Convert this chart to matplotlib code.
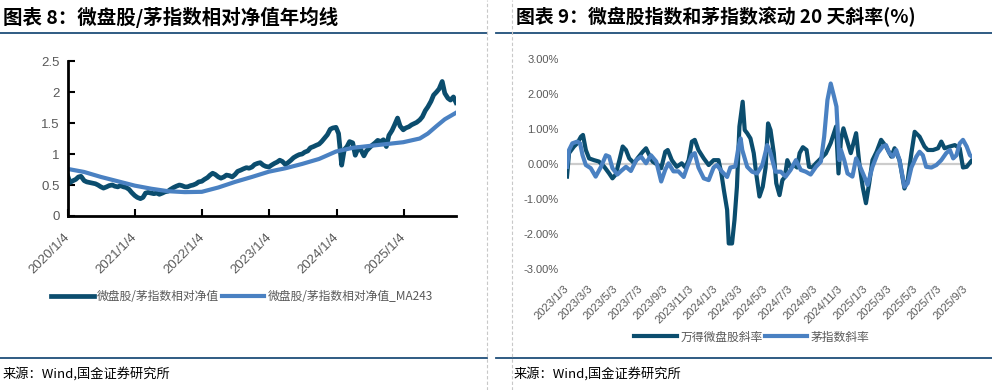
import matplotlib
matplotlib.use('Agg')
import matplotlib.pyplot as plt
import pandas as pd
from matplotlib.lines import Line2D

plt.rcParams['font.family'] = ['Noto Sans CJK SC', 'DejaVu Sans']

# ---------------- 图表8 data ----------------
nav = [
    # 2020
    0.66, 0.54, 0.57, 0.59, 0.63, 0.64, 0.57, 0.55, 0.54, 0.53, 0.52, 0.50,
    0.47, 0.45, 0.47, 0.49, 0.50, 0.48, 0.47, 0.49, 0.47, 0.46, 0.43, 0.38,
    # 2021
    0.33, 0.30, 0.28, 0.30, 0.37, 0.38, 0.37, 0.36, 0.37, 0.35, 0.37, 0.39,
    0.40, 0.43, 0.46, 0.48, 0.50, 0.49, 0.47, 0.47, 0.49, 0.50, 0.52, 0.55,
    # 2022
    0.56, 0.59, 0.62, 0.66, 0.69, 0.67, 0.63, 0.61, 0.63, 0.66, 0.65, 0.63,
    0.67, 0.72, 0.74, 0.76, 0.78, 0.77, 0.79, 0.83, 0.85, 0.86, 0.82, 0.80,
    # 2023
    0.79, 0.82, 0.85, 0.87, 0.90, 0.88, 0.83, 0.86, 0.90, 0.94, 0.97, 0.99,
    1.00, 1.03, 1.05, 1.10, 1.12, 1.14, 1.16, 1.20, 1.26, 1.31, 1.40, 1.42,
    # 2024
    1.43, 1.33, 0.82, 1.07, 1.12, 1.20, 1.18, 0.98, 1.10, 1.07, 0.97, 1.05,
    1.10, 1.14, 1.18, 1.22, 1.20, 1.23, 1.12, 1.30, 1.38, 1.47, 1.58, 1.45,
    # 2025
    1.39, 1.42, 1.44, 1.47, 1.49, 1.51, 1.55, 1.60, 1.70, 1.76, 1.85, 1.95,
    2.00, 2.05, 2.17, 1.98, 1.90, 1.87, 1.92, 1.83,
]
nav_dates = pd.date_range('2020-01-01', '2025-10-15', freq='SMS')[:len(nav)]

ma_dates = pd.to_datetime([
    '2020-01-01', '2020-04-01', '2020-07-01', '2020-10-01',
    '2021-01-01', '2021-04-01', '2021-07-01', '2021-10-01',
    '2022-01-01', '2022-04-01', '2022-07-01', '2022-10-01',
    '2023-01-01', '2023-04-01', '2023-07-01', '2023-10-01',
    '2024-01-01', '2024-04-01', '2024-07-01', '2024-10-01',
    '2025-01-01', '2025-04-01', '2025-05-15', '2025-07-01', '2025-08-15', '2025-10-15'])
ma243 = [0.76, 0.71, 0.63, 0.56, 0.49, 0.44, 0.40, 0.385, 0.39, 0.46, 0.55, 0.63,
         0.715, 0.77, 0.84, 0.92, 1.04, 1.10, 1.13, 1.16, 1.19, 1.25, 1.33, 1.45, 1.56, 1.665]

left_ticks = pd.to_datetime(['2020-01-04', '2021-01-04', '2022-01-04',
                             '2023-01-04', '2024-01-04', '2025-01-04'])
left_tick_labels = ['2020/1/4', '2021/1/4', '2022/1/4', '2023/1/4', '2024/1/4', '2025/1/4']
left_yticks = [0, 0.5, 1, 1.5, 2, 2.5]
left_ylabels = ['0', '0.5', '1', '1.5', '2', '2.5']

# ---------------- 图表9 data ----------------
wd_dates = pd.to_datetime([
    '2023-01-03', '2023-01-08', '2023-01-20', '2023-01-28', '2023-02-06', '2023-02-11',
    '2023-02-18', '2023-02-26', '2023-03-10', '2023-03-22', '2023-04-04', '2023-04-16',
    '2023-04-24', '2023-05-02', '2023-05-11', '2023-05-19', '2023-05-27', '2023-06-04',
    '2023-06-16', '2023-06-24', '2023-07-07', '2023-07-15', '2023-07-23', '2023-07-31',
    '2023-08-13', '2023-08-21', '2023-08-31', '2023-09-06', '2023-09-16', '2023-09-28',
    '2023-10-10', '2023-10-19', '2023-10-27', '2023-11-04', '2023-11-11', '2023-11-20',
    '2023-12-03', '2023-12-15', '2023-12-27',
    '2024-01-08', '2024-01-15', '2024-01-21', '2024-01-29', '2024-02-02', '2024-02-10',
    '2024-02-16', '2024-02-22', '2024-02-28', '2024-03-07', '2024-03-12', '2024-03-18',
    '2024-03-26', '2024-04-03', '2024-04-09', '2024-04-17', '2024-04-25', '2024-05-02',
    '2024-05-08', '2024-05-14', '2024-05-22', '2024-05-28', '2024-06-05', '2024-06-12',
    '2024-06-18', '2024-06-24', '2024-07-02', '2024-07-10', '2024-07-18', '2024-07-24',
    '2024-08-01', '2024-08-10', '2024-08-16', '2024-08-24', '2024-09-02', '2024-09-14',
    '2024-09-26', '2024-10-08', '2024-10-21', '2024-10-27', '2024-11-02', '2024-11-08',
    '2024-11-14', '2024-11-26', '2024-12-09', '2024-12-17', '2024-12-25',
    '2025-01-02', '2025-01-10', '2025-01-18', '2025-01-28', '2025-02-08', '2025-02-20',
    '2025-03-05', '2025-03-13', '2025-03-25', '2025-04-06', '2025-04-14', '2025-04-23',
    '2025-05-01', '2025-05-13', '2025-05-25', '2025-06-02', '2025-06-15', '2025-06-27',
    '2025-07-05', '2025-07-13', '2025-07-26', '2025-08-07', '2025-08-19', '2025-08-27',
    '2025-09-05', '2025-09-18'])
wd_slope = [
    -0.36, 0.31, 0.50, 0.59, 0.78, 0.83, 0.40, 0.16, 0.11, 0.07, -0.08, -0.27,
    -0.41, -0.30, 0.11, 0.50, 0.40, 0.16, 0.02, 0.16, 0.35, 0.45, 0.25, 0.07,
    -0.03, -0.12, 0.35, 0.40, 0.11, -0.08, 0.02, -0.10, 0.11, 0.64, 0.69, 0.40,
    0.16, -0.03, 0.11,
    0.11, -0.27, -0.74, -1.31, -2.27, -2.27, -1.60, -0.65, 1.07, 1.78, 0.97, 0.88,
    0.73, 0.31, -0.27, -0.93, -0.65, -0.10, 1.16, 0.97, 0.31, -0.55, -0.89, -0.46,
    -0.37, 0.11, -0.10, -0.03, -0.10, 0.31, 0.48, 0.40, -0.08, -0.10, 0.02, 0.16,
    0.30, 0.60, 1.07, -0.27, 0.69, 1.02, 0.78, 0.31, 0.88, 0.00, -0.65,
    -1.12, -0.55, 0.11, 0.35, 0.69, 0.50, 0.21, 0.45, 0.11, -0.70, -0.46, 0.31,
    0.92, 0.78, 0.50, 0.40, 0.40, 0.45, 0.64, 0.45, 0.50, 0.54, 0.45, -0.10,
    -0.08, 0.11]

mao_dates = pd.to_datetime([
    '2023-01-03', '2023-01-08', '2023-01-16', '2023-01-28', '2023-02-04', '2023-02-10',
    '2023-02-18', '2023-03-02', '2023-03-14', '2023-03-27', '2023-04-08', '2023-04-16',
    '2023-04-24', '2023-05-06', '2023-05-15', '2023-05-27', '2023-06-08', '2023-06-21',
    '2023-07-03', '2023-07-15', '2023-07-27', '2023-08-09', '2023-08-21', '2023-08-31',
    '2023-09-08', '2023-09-20', '2023-10-02', '2023-10-15', '2023-10-23', '2023-11-04',
    '2023-11-11', '2023-11-20', '2023-12-03', '2023-12-15', '2023-12-27',
    '2024-01-04', '2024-01-16', '2024-01-29', '2024-02-06', '2024-02-18', '2024-02-26',
    '2024-03-02', '2024-03-06', '2024-03-18', '2024-03-30', '2024-04-11', '2024-04-24',
    '2024-05-06', '2024-05-14', '2024-05-26', '2024-06-08', '2024-06-20', '2024-07-02',
    '2024-07-15', '2024-07-27', '2024-08-08', '2024-08-20', '2024-09-02', '2024-09-14',
    '2024-09-22', '2024-09-30', '2024-10-08', '2024-10-16', '2024-10-22', '2024-10-29',
    '2024-11-02', '2024-11-10', '2024-11-18', '2024-11-30', '2024-12-09', '2024-12-17',
    '2024-12-29',
    '2025-01-06', '2025-01-18', '2025-01-31', '2025-02-12', '2025-02-20', '2025-02-28',
    '2025-03-09', '2025-03-17', '2025-03-25', '2025-04-06', '2025-04-14', '2025-04-23',
    '2025-05-05', '2025-05-13', '2025-05-21', '2025-05-29', '2025-06-11', '2025-06-23',
    '2025-07-05', '2025-07-17', '2025-07-26', '2025-08-03', '2025-08-11', '2025-08-19',
    '2025-08-27', '2025-09-05', '2025-09-13', '2025-09-18'])
mao_slope = [
    -0.08, 0.40, 0.59, 0.64, 0.59, 0.25, -0.03, -0.12, -0.36, -0.08, 0.25, 0.21,
    -0.12, -0.30, -0.20, -0.08, -0.20, 0.11, 0.21, 0.02, 0.25, 0.07, -0.50, -0.16,
    0.02, -0.21, -0.21, -0.37, -0.10, 0.26, 0.31, -0.10, -0.41, -0.46, -0.10,
    -0.03, -0.21, -0.37, -0.10, -0.07, 0.50, 0.73, 0.40, -0.08, -0.22, -0.27, -0.03,
    0.54, 0.31, -0.22, -0.22, -0.36, -0.17, 0.11, -0.17, -0.22, -0.30, -0.08, 0.07,
    0.78, 1.83, 2.30, 1.93, 1.64, 0.11, 0.40, 0.11, -0.27, -0.36, 0.16, -0.03,
    -0.36,
    -0.60, -0.08, 0.31, 0.50, 0.54, 0.31, 0.21, 0.40, 0.11, -0.65, -0.55, -0.10,
    0.21, 0.35, 0.25, -0.08, -0.10, -0.03, 0.11, 0.31, 0.40, 0.16, 0.25, 0.59,
    0.69, 0.50, 0.25, 0.21]

right_ticks = pd.date_range('2023-01-03', '2025-09-03', freq=pd.DateOffset(months=2))
right_tick_labels = [f'{d.year}/{d.month}/{d.day}' for d in right_ticks]
right_yticks = [-3, -2, -1, 0, 1, 2, 3]
right_ylabels = ['-3.00%', '-2.00%', '-1.00%', '0.00%', '1.00%', '2.00%', '3.00%']

DARK = '#0b4d6e'
LIGHT = '#4a81c2'
GREY = '#595959'
NAVY = '#1f4e79'
W, H = 992, 390

fig = plt.figure(figsize=(W / 100, H / 100), dpi=100)

# frame lines, titles, sources
for y in (33, 358):
    fig.add_artist(Line2D([0, 487 / W], [1 - y / H] * 2, color=NAVY, lw=1.3))
    fig.add_artist(Line2D([496 / W, 1], [1 - y / H] * 2, color=NAVY, lw=1.3))
for x in (487, 512):
    fig.add_artist(Line2D([x / W] * 2, [0, 1], color='#c8c8c8', lw=0.8, ls=(0, (3, 2))))

fig.text(3 / W, 1 - 17 / H, '图表 8：微盘股/茅指数相对净值年均线', fontsize=14,
         fontweight='bold', va='center', ha='left', color='black')
fig.text(516 / W, 1 - 17 / H, '图表 9：微盘股指数和茅指数滚动 20 天斜率(%)', fontsize=13.6,
         fontweight='bold', va='center', ha='left', color='black')
fig.text(3 / W, 1 - 374 / H, '来源：Wind,国金证券研究所', fontsize=9.5, va='center', ha='left')
fig.text(514 / W, 1 - 374 / H, '来源：Wind,国金证券研究所', fontsize=9.5, va='center', ha='left')

# ---------------- left chart ----------------
ax1 = fig.add_axes([68 / W, 1 - 216 / H, 388 / W, 155 / H])
ax1.plot(nav_dates, nav, color=DARK, lw=3.4, solid_joinstyle='round', label='微盘股/茅指数相对净值')
ax1.plot(ma_dates, ma243, color=LIGHT, lw=3.0, label='微盘股/茅指数相对净值_MA243')
ax1.set_xlim(pd.Timestamp('2020-01-04'), pd.Timestamp('2025-10-15'))
ax1.set_ylim(0, 2.5)
for s in ('top', 'right'):
    ax1.spines[s].set_visible(False)
for s in ('left', 'bottom'):
    ax1.spines[s].set_linewidth(2)
ax1.set_yticks(left_yticks)
ax1.set_yticklabels(left_ylabels, fontsize=9.5, color=GREY, family='Liberation Sans')
ax1.set_xticks(left_ticks)
ax1.set_xticklabels(left_tick_labels, fontsize=9.5, color=GREY, family='Liberation Sans',
                    rotation=45, ha='right', va='center', rotation_mode='anchor')
ax1.tick_params(axis='both', direction='in', length=5, width=1.5)
ax1.tick_params(axis='x', pad=14)
ax1.tick_params(axis='y', pad=6)

fig.legend(handles=ax1.get_lines(), loc='center', bbox_to_anchor=(242 / W, 1 - 297 / H),
           ncol=2, frameon=False, fontsize=8.5, handlelength=3.6, handletextpad=0.3,
           columnspacing=0.2, labelcolor=GREY)

# ---------------- right chart ----------------
ax2 = fig.add_axes([567 / W, 1 - 269 / H, 405 / W, 210 / H])
ax2.axhline(0, color='#cccccc', lw=1.6, zorder=1)
ax2.plot(wd_dates, wd_slope, color=DARK, lw=3.0, label='万得微盘股斜率', zorder=2)
ax2.plot(mao_dates, mao_slope, color=LIGHT, lw=3.0, label='茅指数斜率', zorder=3)
ax2.set_xlim(pd.Timestamp('2023-01-03'), pd.Timestamp('2025-09-18'))
ax2.set_ylim(-3, 3)
for s in ax2.spines.values():
    s.set_visible(False)
ax2.set_yticks(right_yticks)
ax2.set_yticklabels(right_ylabels, fontsize=8, color=GREY, family='Liberation Sans')
ax2.set_xticks(right_ticks)
ax2.set_xticklabels(right_tick_labels, fontsize=8, color=GREY, family='Liberation Sans',
                    rotation=45, ha='right', va='center', rotation_mode='anchor')
ax2.tick_params(axis='both', length=0)
ax2.tick_params(axis='x', pad=13)
ax2.tick_params(axis='y', pad=6)

fig.legend(handles=ax2.get_lines()[1:], loc='center', bbox_to_anchor=(752 / W, 1 - 337 / H),
           ncol=2, frameon=False, fontsize=8.5, handlelength=3.6, handletextpad=0.3,
           columnspacing=0.2, labelcolor=GREY)

fig.savefig('out.png', dpi=100)
